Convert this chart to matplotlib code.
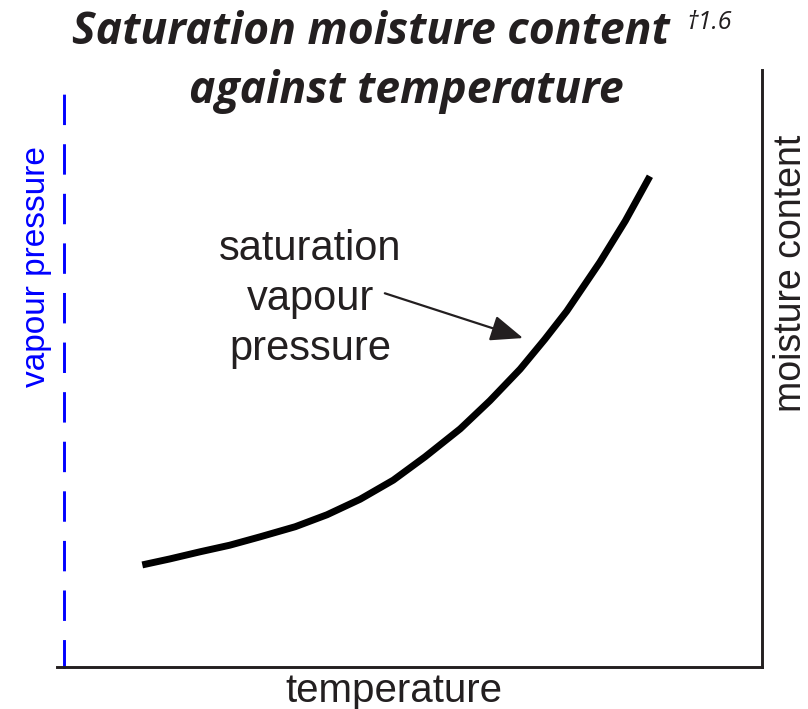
import matplotlib
matplotlib.use("Agg")
import matplotlib.pyplot as plt
from matplotlib import font_manager

# schematic curve: temperature vs saturation vapour pressure (arbitrary units 0-100)
temperature = [12.1, 16.0, 20.3, 24.5, 28.8, 33.8, 38.3, 43.0, 47.7, 52.2, 57.2,
               61.4, 65.7, 69.2, 72.3, 77.0, 80.6, 84.1]
vapour_pressure = [17.1, 18.1, 19.3, 20.4, 21.8, 23.5, 25.5, 28.1, 31.3, 35.2, 39.9,
                   44.6, 49.9, 54.9, 59.6, 67.8, 74.7, 82.2]

title_1 = "Saturation moisture content"
title_sup = "\u20201.6"
title_2 = "against temperature"
xlabel = "temperature"
ylabel_left = "vapour pressure"
ylabel_right = "moisture content"
note = "saturation\nvapour\npressure"
note_xy = (35.9, 61.6)      # centre of the text block
arrow_from = (46.5, 62.6)
arrow_to = (66.1, 55.1)

DARK = "#231f20"
BLUE = "#0000ff"
W, H = 808, 709

names = {f.name for f in font_manager.fontManager.ttflist}
narrow = "Liberation Sans Narrow" if "Liberation Sans Narrow" in names else "Liberation Sans"

plt.rcParams["lines.scale_dashes"] = False
plt.rcParams["font.family"] = ["Liberation Sans", "DejaVu Sans"]

fig = plt.figure(figsize=(W / 100, H / 100), dpi=100)
ax = fig.add_axes([57 / W, 1 - 667 / H, (762 - 57) / W, (667 - 70) / H])
ax.set_xlim(0, 100)
ax.set_ylim(0, 100)
ax.set_xticks([])
ax.set_yticks([])

# spines
ax.spines["top"].set_visible(False)
for s in ("bottom", "right"):
    ax.spines[s].set_color(DARK)
    ax.spines[s].set_linewidth(2.1)
ax.spines["left"].set_color(BLUE)
ax.spines["left"].set_linewidth(2.1)
ax.spines["left"].set_position(("outward", -5))
ax.spines["left"].set_linestyle((1.1, (19.8, 15.9)))
ax.spines["left"].set_bounds(0, 95.8)

# the curve
ax.plot(temperature, vapour_pressure, color="black", lw=5, solid_capstyle="butt",
        solid_joinstyle="round")

# label + arrow
ax.text(note_xy[0], note_xy[1], note, ha="center", va="center", fontsize=30,
        color=DARK, linespacing=1.33)
ax.annotate("", xy=arrow_to, xytext=arrow_from,
            arrowprops=dict(arrowstyle="-|>,head_length=1.0,head_width=0.4",
                            color=DARK, lw=1.6, mutation_scale=20,
                            shrinkA=0, shrinkB=0))

# axis labels
fig.text(394 / W, 1 - 702 / H, xlabel, ha="center", va="baseline", fontsize=29,
         color=DARK)
fig.text(45 / W, 1 - 267 / H, ylabel_left, ha="center", va="baseline", rotation=90,
         rotation_mode="anchor", fontsize=24, color=BLUE, family=narrow)
fig.text(801 / W, 1 - 273 / H, ylabel_right, ha="center", va="baseline", rotation=90,
         rotation_mode="anchor", fontsize=27, color=DARK)

# title
fig.text(72 / W, 1 - 44 / H, title_1, ha="left", va="baseline", fontsize=32,
         family="Open Sans", weight="bold", style="italic", color=DARK)
fig.text(686 / W, 1 - 29 / H, title_sup, ha="left", va="baseline", fontsize=18,
         family=["Open Sans", "DejaVu Sans"], style="italic", color=DARK)
fig.text(406 / W, 1 - 103 / H, title_2, ha="center", va="baseline", fontsize=32,
         family="Open Sans", weight="bold", style="italic", color=DARK)

fig.savefig("out.png", dpi=100)
